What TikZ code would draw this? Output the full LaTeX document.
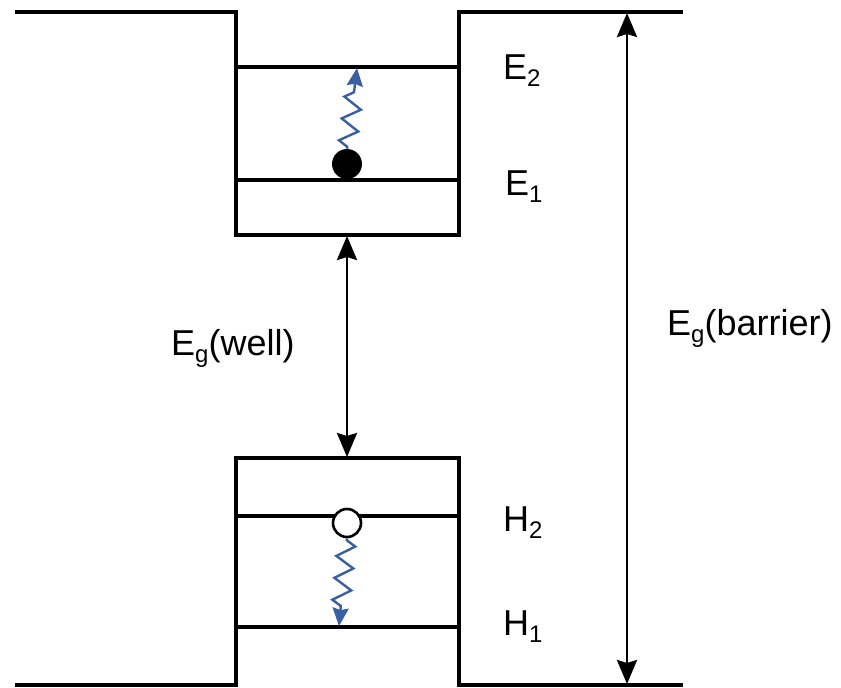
\documentclass[tikz,border=0pt]{standalone}
\usepackage{fontspec}
\setmainfont{Liberation Sans}
\usetikzlibrary{arrows.meta,decorations.pathmorphing}
\begin{document}
\begin{tikzpicture}[x=1pt,y=-1pt,
  band/.style={line width=3.2pt,black},
  gaparrow/.style={line width=2.8pt,{Stealth[length=24pt,width=20pt,inset=3pt]}-{Stealth[length=24pt,width=20pt,inset=3pt]}},
  photon/.style={line width=2.4pt,draw={rgb,255:red,58;green,95;blue,160},
    decorate,decoration={zigzag,amplitude=9pt,segment length=22pt,pre length=2pt,post length=14pt},
    -{Stealth[length=18pt,width=16pt,inset=2pt]}},
  lbl/.style={font=\fontsize{36}{42}\selectfont,anchor=base west,inner sep=0pt}]
\useasboundingbox (0,0) rectangle (841,688);
% conduction band profile
\draw[band] (15,12) -- (236,12) -- (236,235) -- (459,235) -- (459,12) -- (683,12);
% valence band profile
\draw[band] (15,685) -- (236,685) -- (236,458) -- (459,458) -- (459,685) -- (683,685);
% subband levels
\draw[band] (236,67) -- (459,67);
\draw[band] (236,180) -- (459,180);
\draw[band] (236,516) -- (459,516);
\draw[band] (236,627) -- (459,627);
% coordinates
\coordinate (cbw) at (347,236);
\coordinate (vbw) at (347,457);
\coordinate (cbb) at (627,13);
\coordinate (vbb) at (627,684);
\coordinate (e2t) at (357,68);
\coordinate (h1t) at (339,626);
% carriers
\node[circle,fill=black,minimum size=30pt,inner sep=0pt] (el) at (347,164) {};
\node[circle,draw=black,line width=2.6pt,fill=white,minimum size=28pt,inner sep=0pt] (ho) at (347,523) {};
% photons
\draw[photon] (el.north) -- (e2t);
\draw[photon] (ho.south) -- (h1t);
% gap arrows
\draw[gaparrow] (cbw) -- (vbw);
\draw[gaparrow] (cbb) -- (vbb);
% labels
\node[lbl] (lE2) at (503,79) {E{\fontsize{24}{24}\selectfont\raisebox{-7pt}{2}}};
\node[lbl] (lE1) at (505,195) {E{\fontsize{24}{24}\selectfont\raisebox{-7pt}{1}}};
\node[lbl] (lH2) at (503,531) {H{\fontsize{24}{24}\selectfont\raisebox{-7pt}{2}}};
\node[lbl] (lH1) at (503,635) {H{\fontsize{24}{24}\selectfont\raisebox{-7pt}{1}}};
\node[lbl] (lgw) at (171,355) {E{\fontsize{24}{24}\selectfont\raisebox{-7pt}{g}}(well)};
\node[lbl] (lgb) at (667,335) {E{\fontsize{24}{24}\selectfont\raisebox{-7pt}{g}}(barrier)};
\end{tikzpicture}
\end{document}
